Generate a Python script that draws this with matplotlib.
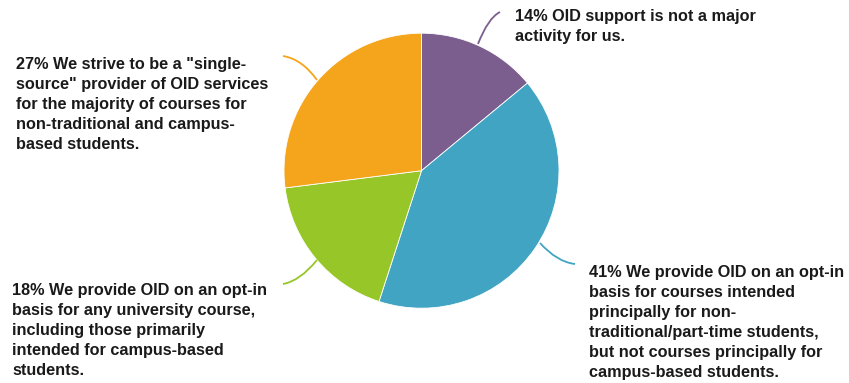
import matplotlib.pyplot as plt
from matplotlib.path import Path
from matplotlib.patches import PathPatch

# shares of responses, clockwise from 12 o'clock
shares = [14, 41, 18, 27]
labels = [
    'OID support is not a major\nactivity for us.',
    'We provide OID on an opt-in\nbasis for courses intended\nprincipally for non-\n'
    'traditional/part-time students,\nbut not courses principally for\ncampus-based students.',
    'We provide OID on an opt-in\nbasis for any university course,\nincluding those primarily\n'
    'intended for campus-based\nstudents.',
    'We strive to be a "single-\nsource" provider of OID services\nfor the majority of courses for\n'
    'non-traditional and campus-\nbased students.',
]
colors = ['#7b5e8d', '#41a4c3', '#97c628', '#f5a51c']

W, H = 849, 383
fig = plt.figure(figsize=(W / 100, H / 100), dpi=100)
ax = fig.add_axes([0, 0, 1, 1])

cx, cy, r = 421.5, H - 170.7, 137.5
ax.pie(shares, colors=colors, startangle=90, counterclock=False,
       center=(cx, cy), radius=r, frame=True,
       wedgeprops=dict(edgecolor='white', linewidth=0.6))
ax.set_xlim(0, W)
ax.set_ylim(0, H)
ax.set_aspect('equal')
ax.axis('off')

# label anchors (top-left, image pixels) and curved leader lines
text_pos = [(515, 9), (589, 265), (12, 283), (16, 57)]
leaders = [
    [(478, 44), (488, 18), (500, 12)],
    [(540, 243), (557, 262), (575, 264)],
    [(317, 260), (300, 281), (283, 284)],
    [(317, 80), (302, 59), (283, 56)],
]

for s, lab, c, (tx, ty), pts in zip(shares, labels, colors, text_pos, leaders):
    ax.text(tx, H - ty, f'{s}% {lab}', ha='left', va='top',
            fontsize=11.7, fontweight='bold', family='Liberation Sans',
            color='#1a1a1a', linespacing=1.42)
    verts = [(x, H - y) for x, y in pts]
    path = Path(verts, [Path.MOVETO, Path.CURVE3, Path.CURVE3])
    ax.add_patch(PathPatch(path, facecolor='none', edgecolor=c, lw=1.3))

fig.savefig('out.png', dpi=100)
